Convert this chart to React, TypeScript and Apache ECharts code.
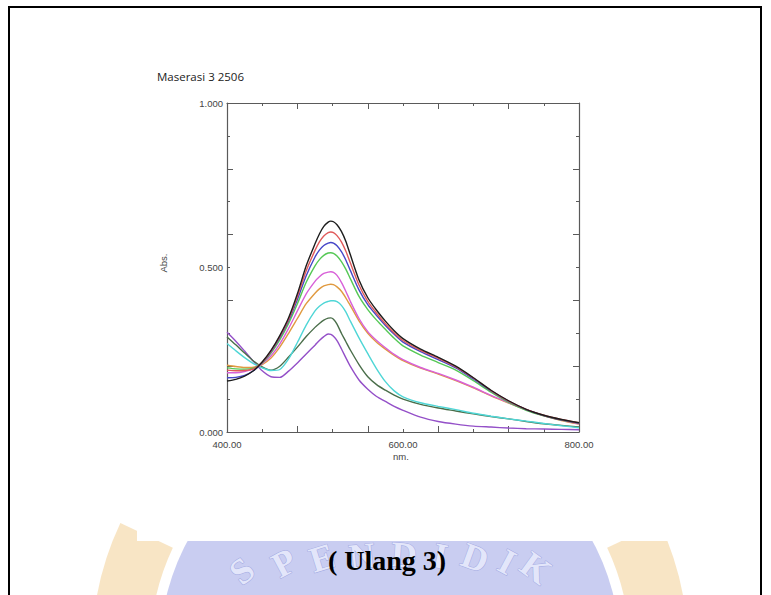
import React, { useEffect, useRef } from "react";
import * as echarts from "echarts";

const wavelengths = [400, 410, 420, 430, 440, 450, 460, 470, 480, 490, 500, 505, 510, 515, 518, 521, 525, 530, 535, 540, 550, 560, 570, 580, 590, 600, 620, 640, 660, 680, 700, 720, 740, 760, 780, 800];

const absBlack = [0.155, 0.160, 0.170, 0.186, 0.213, 0.248, 0.293, 0.347, 0.420, 0.505, 0.572, 0.602, 0.625, 0.638, 0.641, 0.639, 0.630, 0.610, 0.580, 0.540, 0.462, 0.408, 0.370, 0.337, 0.308, 0.284, 0.252, 0.227, 0.200, 0.165, 0.127, 0.095, 0.069, 0.051, 0.038, 0.028];
const absRed = [0.188, 0.186, 0.187, 0.192, 0.212, 0.246, 0.290, 0.342, 0.412, 0.490, 0.552, 0.578, 0.596, 0.606, 0.608, 0.606, 0.597, 0.578, 0.550, 0.515, 0.447, 0.397, 0.361, 0.329, 0.301, 0.278, 0.248, 0.224, 0.198, 0.164, 0.126, 0.094, 0.069, 0.051, 0.038, 0.028];
const absBlue = [0.165, 0.166, 0.172, 0.186, 0.211, 0.244, 0.287, 0.338, 0.403, 0.475, 0.532, 0.553, 0.567, 0.574, 0.576, 0.574, 0.566, 0.548, 0.523, 0.492, 0.432, 0.387, 0.354, 0.324, 0.297, 0.273, 0.244, 0.220, 0.195, 0.161, 0.125, 0.093, 0.068, 0.050, 0.037, 0.027];
const absGreen = [0.195, 0.192, 0.191, 0.194, 0.210, 0.240, 0.280, 0.330, 0.390, 0.455, 0.505, 0.524, 0.537, 0.544, 0.545, 0.543, 0.535, 0.518, 0.495, 0.467, 0.412, 0.372, 0.340, 0.312, 0.285, 0.262, 0.234, 0.211, 0.188, 0.156, 0.121, 0.090, 0.066, 0.049, 0.036, 0.027];
const absMagenta = [0.180, 0.180, 0.184, 0.192, 0.208, 0.232, 0.268, 0.315, 0.368, 0.420, 0.458, 0.472, 0.482, 0.486, 0.487, 0.485, 0.476, 0.455, 0.428, 0.398, 0.345, 0.305, 0.278, 0.256, 0.236, 0.220, 0.196, 0.178, 0.158, 0.136, 0.111, 0.089, 0.068, 0.050, 0.036, 0.025];
const absOrange = [0.203, 0.199, 0.196, 0.197, 0.205, 0.225, 0.258, 0.300, 0.345, 0.390, 0.422, 0.435, 0.444, 0.448, 0.449, 0.448, 0.441, 0.428, 0.408, 0.385, 0.338, 0.300, 0.273, 0.252, 0.233, 0.217, 0.194, 0.176, 0.156, 0.134, 0.110, 0.088, 0.067, 0.049, 0.035, 0.024];
const absCyan = [0.269, 0.247, 0.226, 0.208, 0.195, 0.187, 0.190, 0.222, 0.272, 0.325, 0.368, 0.382, 0.392, 0.397, 0.399, 0.399, 0.396, 0.385, 0.365, 0.338, 0.286, 0.238, 0.192, 0.153, 0.125, 0.107, 0.089, 0.078, 0.068, 0.057, 0.048, 0.040, 0.033, 0.026, 0.019, 0.013];
const absDarkGreen = [0.289, 0.265, 0.240, 0.216, 0.198, 0.188, 0.200, 0.228, 0.258, 0.290, 0.318, 0.330, 0.340, 0.346, 0.347, 0.343, 0.328, 0.300, 0.275, 0.250, 0.205, 0.168, 0.144, 0.127, 0.112, 0.100, 0.084, 0.073, 0.064, 0.055, 0.047, 0.040, 0.032, 0.025, 0.020, 0.015];
const absPurple = [0.303, 0.276, 0.246, 0.215, 0.186, 0.168, 0.166, 0.185, 0.210, 0.237, 0.264, 0.278, 0.290, 0.298, 0.297, 0.291, 0.278, 0.253, 0.226, 0.200, 0.158, 0.130, 0.108, 0.093, 0.078, 0.066, 0.045, 0.032, 0.024, 0.018, 0.015, 0.012, 0.010, 0.009, 0.008, 0.007];

const seriesList = [absPurple, absDarkGreen, absCyan, absOrange, absMagenta, absGreen, absBlue, absRed, absBlack];
const seriesColors = ["#9450c8", "#4a6e4a", "#4fd6d6", "#e09a40", "#d860d8", "#55c855", "#4646c8", "#e05a5a", "#1e1e1e"];

const titleText = "Maserasi 3 2506";
const xName = "nm.";
const yName = "Abs.";
const captionText = "( Ulang 3)";
const watermarkLetters = ["S", "P", "E", "N", "D", "I", "D", "I", "K"];

export default function App() {
  const ref = useRef<HTMLDivElement>(null);
  useEffect(() => {
    if (!ref.current) return;
    const chart = echarts.init(ref.current, null, { renderer: "svg" });
    const L = 227, T = 103, W = 352, H = 329;
    const axisColor = "#5a5a5a";
    const gridRect = { left: L, top: T, width: W, height: H };
    const tickAxis = (gridIndex: number, position: string, min: number, max: number, interval: number) => ({
      gridIndex,
      type: "value",
      min,
      max,
      interval,
      position,
      axisLine: { show: true, onZero: false, lineStyle: { color: axisColor, width: 1.2 } },
      axisTick: { show: true, inside: true, length: 6, lineStyle: { color: axisColor, width: 1 } },
      minorTick: { show: true, splitNumber: 2, length: 3, lineStyle: { color: axisColor, width: 1 } },
      axisLabel: { show: false },
      splitLine: { show: false },
      minorSplitLine: { show: false },
    });
    const labelFont = { fontSize: 9.5, color: "#444", fontFamily: "Liberation Sans, Arial, sans-serif" };

    const pos = [
      [242, 571, 0.7], [284, 563, 0.49], [322, 558, 0.3], [362, 556, 0.1], [404, 555, -0.07],
      [440, 556, -0.21], [475, 558, -0.35], [507, 562, -0.49], [536, 568, -0.63],
    ];
    const letterEls = watermarkLetters.map((ch, i) => ({
      type: "text",
      x: pos[i][0],
      y: pos[i][1],
      rotation: pos[i][2],
      z: -2,
      silent: true,
      style: {
        text: ch,
        font: "bold 36px 'Liberation Serif', serif",
        fill: "#e3e6fa",
        stroke: "#a3aae2",
        lineWidth: 1,
        align: "center",
        verticalAlign: "middle",
        textAlign: "center",
        textVerticalAlign: "middle",
      },
    }));

    const cx = 390, cy = 650;
    chart.setOption({
      animation: false,
      backgroundColor: "#ffffff",
      grid: [
        { ...gridRect, show: false },
        { ...gridRect, show: false },
      ],
      xAxis: [
        {
          gridIndex: 0, type: "value", min: 400, max: 800, interval: 200, position: "bottom",
          axisLine: { show: false }, axisTick: { show: false }, splitLine: { show: false },
          axisLabel: { ...labelFont, margin: 7, formatter: (v: number) => v.toFixed(2) },
        },
        tickAxis(1, "bottom", 400, 800, 80),
        tickAxis(1, "top", 400, 800, 80),
      ],
      yAxis: [
        {
          gridIndex: 0, type: "value", min: 0, max: 1, interval: 0.5, position: "left",
          axisLine: { show: false }, axisTick: { show: false }, splitLine: { show: false },
          axisLabel: { ...labelFont, margin: 4, formatter: (v: number) => v.toFixed(3) },
        },
        tickAxis(1, "left", 0, 1, 0.2),
        tickAxis(1, "right", 0, 1, 0.2),
      ],
      series: seriesList.map((vals, i) => ({
        type: "line",
        xAxisIndex: 0,
        yAxisIndex: 0,
        showSymbol: false,
        smooth: 0.25,
        silent: true,
        z: 3,
        lineStyle: { width: 1.4, color: seriesColors[i] },
        data: wavelengths.map((w, j) => [w, vals[j]]),
      })),
      graphic: [
        // watermark
        { type: "sector", z: -3, silent: true, shape: { cx, cy, r0: 240, r: 298, startAngle: Math.PI, endAngle: Math.PI * 1.14 }, style: { fill: "#f6dfb6", opacity: 0.8 } },
        { type: "sector", z: -3, silent: true, shape: { cx, cy, r0: 240, r: 298, startAngle: Math.PI * 1.86, endAngle: Math.PI * 2 }, style: { fill: "#f6dfb6", opacity: 0.8 } },
        { type: "circle", z: -3, silent: true, shape: { cx, cy, r: 230 }, style: { fill: "#c9cdf1" } },
        ...letterEls,
        { type: "rect", z: -1, silent: true, shape: { x: 137, y: 0, width: 542, height: 541 }, style: { fill: "#ffffff" } },
        // texts
        {
          type: "text", x: 157, y: 76, z: 10, silent: true,
          style: { text: titleText, font: "11.5px 'Open Sans', sans-serif", fill: "#222", align: "left", verticalAlign: "middle", textAlign: "left", textVerticalAlign: "middle" },
        },
        {
          type: "text", x: 163.5, y: 263, rotation: Math.PI / 2, z: 10, silent: true,
          style: { text: yName, font: "9.5px 'Liberation Sans', Arial, sans-serif", fill: "#444", align: "center", verticalAlign: "middle", textAlign: "center", textVerticalAlign: "middle" },
        },
        {
          type: "text", x: 401, y: 456, z: 10, silent: true,
          style: { text: xName, font: "9.5px 'Liberation Sans', Arial, sans-serif", fill: "#444", align: "center", verticalAlign: "middle", textAlign: "center", textVerticalAlign: "middle" },
        },
        {
          type: "text", x: 387, y: 560, z: 10, silent: true,
          style: { text: captionText, font: "bold 28px 'Liberation Serif', 'Times New Roman', serif", fill: "#000", align: "center", verticalAlign: "middle", textAlign: "center", textVerticalAlign: "middle" },
        },
        // frame
        { type: "line", z: 11, silent: true, shape: { x1: 9, y1: 7, x2: 9, y2: 595 }, style: { stroke: "#000", lineWidth: 2 } },
        { type: "line", z: 11, silent: true, shape: { x1: 8, y1: 7, x2: 762, y2: 7 }, style: { stroke: "#000", lineWidth: 2 } },
        { type: "line", z: 11, silent: true, shape: { x1: 761, y1: 7, x2: 761, y2: 595 }, style: { stroke: "#000", lineWidth: 2 } },
      ],
    });
    return () => chart.dispose();
  }, []);
  return <div ref={ref} style={{ position: "absolute", left: 0, top: 0, width: 771, height: 595 }} />;
}
